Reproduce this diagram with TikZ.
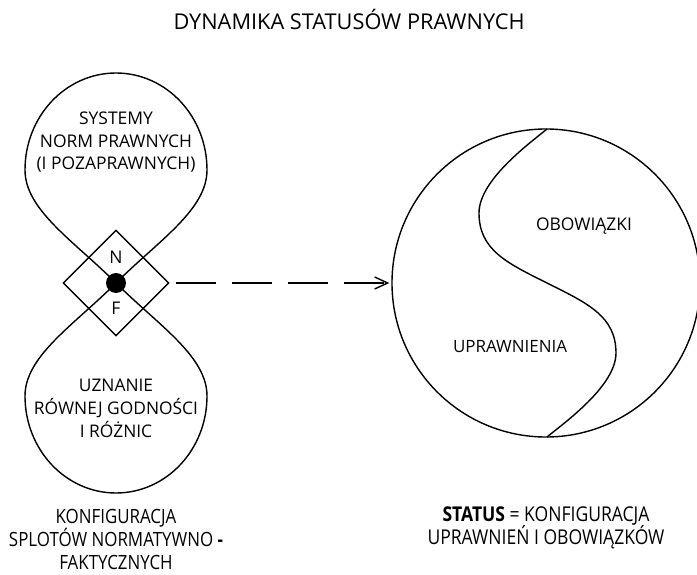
\documentclass[tikz,border=0pt]{standalone}
\usepackage{fontspec}
\setmainfont{Open Sans}
\newfontfamily\condfont[FakeStretch=0.86]{Open Sans}
\usetikzlibrary{arrows.meta,shapes.geometric}

% font size that sets a sample text at a given width
\newlength\samplewd
\newcommand\fitsize[4]{% #1 result macro, #2 font switch, #3 sample, #4 width in pt
  \settowidth\samplewd{#2\fontsize{10}{12}\selectfont #3}%
  \pgfmathsetmacro#1{10*#4/\samplewd}}

\tikzset{
  stroke/.style={line width=1.4pt, black},
  label/.style={align=center, inner sep=0pt},
  junction/.style={draw, stroke, shape=diamond, minimum width=106pt, minimum height=106pt, inner sep=0pt},
  whole/.style={draw, stroke, shape=circle, minimum size=308pt, inner sep=0pt},
}

\begin{document}
\fitsize{\sztitle}{}{DYNAMIKA STATUSÓW PRAWNYCH}{351}%
\fitsize{\sznorm}{}{(I POZAPRAWNYCH)}{159}%
\fitsize{\szfact}{}{RÓWNEJ GODNOŚCI}{164}%
\fitsize{\szduty}{}{OBOWIĄZKI}{96}%
\fitsize{\szright}{}{UPRAWNIENIA}{114}%
\fitsize{\szcapl}{\condfont}{SPLOTÓW NORMATYWNO \textbf{-}}{214}%
\fitsize{\szcapr}{\condfont}{\textbf{STATUS} = KONFIGURACJA}{207}%
\begin{tikzpicture}[x=1pt, y=-1pt]
  \useasboundingbox (0,0) rectangle (697,575);

  % title
  \node[label, font=\fontsize{\sztitle pt}{23pt}\selectfont] (title) at (349,19) {DYNAMIKA STATUSÓW PRAWNYCH};

  % junction point of the two loops
  \coordinate (d) at (116,283);

  % upper loop (norms)
  \draw[stroke] (d) .. controls (74,241) and (25,210) .. (25,170)
                    .. controls (25,116) and (66,73) .. (116,73)
                    .. controls (166,73) and (207,116) .. (207,170)
                    .. controls (207,210) and (158,241) .. (d);
  % lower loop (facts)
  \draw[stroke] (d) .. controls (74,325) and (25,356) .. (25,396)
                    .. controls (25,450) and (66,493) .. (116,493)
                    .. controls (166,493) and (207,450) .. (207,396)
                    .. controls (207,356) and (158,325) .. (d);

  \node[junction] (nf) at (d) {};
  \fill (d) circle[radius=10pt];
  \node[label, font=\fontsize{\sznorm pt}{23pt}\selectfont] (n) at (116,257) {N};
  \node[label, font=\fontsize{\sznorm pt}{23pt}\selectfont] (f) at (116,308) {F};

  \node[label, font=\fontsize{\sznorm pt}{22.5pt}\selectfont] (norms) at (116,142.5)
    {SYSTEMY\\NORM PRAWNYCH\\(I POZAPRAWNYCH)};
  \node[label, font=\fontsize{\szfact pt}{23pt}\selectfont] (facts) at (116,408)
    {UZNANIE\\RÓWNEJ GODNOŚCI\\I RÓŻNIC};

  % status circle split into rights and duties
  \node[whole] (status) at (546,283) {};
  \coordinate (stop) at (547,129);
  \coordinate (sbot) at (547,437);
  \draw[stroke] (stop) .. controls (530,143) and (479,180) .. (479,213)
                       .. controls (479,250) and (507,263) .. (547,283)
                       .. controls (587,303) and (616,316) .. (616,353)
                       .. controls (616,386) and (564,423) .. (sbot);

  \node[label, font=\fontsize{\szduty pt}{23pt}\selectfont] (duties) at (584,226) {OBOWIĄZKI};
  \node[label, font=\fontsize{\szright pt}{23pt}\selectfont] (rights) at (510,347) {UPRAWNIENIA};

  % dashed connector
  \draw[stroke, dash pattern=on 40pt off 16pt, shorten <=6pt, shorten >=2pt,
        -{Straight Barb[length=13pt,width=12pt]}] (nf.east) -- (status.west);

  % captions
  \node[label, font=\condfont\fontsize{\szcapl pt}{23pt}\selectfont] (capl) at (116,539)
    {KONFIGURACJA\\SPLOTÓW NORMATYWNO \textbf{-}\\FAKTYCZNYCH};
  \node[label, font=\condfont\fontsize{\szcapr pt}{23pt}\selectfont] (capr) at (546,527.5)
    {\textbf{STATUS} = KONFIGURACJA\\UPRAWNIEŃ I OBOWIĄZKÓW};
\end{tikzpicture}
\end{document}
